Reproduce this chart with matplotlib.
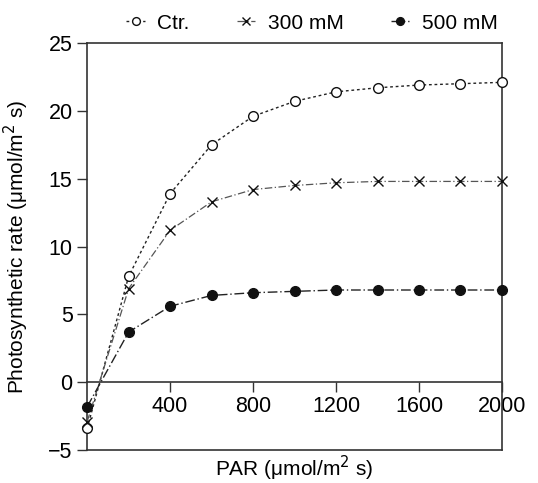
import matplotlib.pyplot as plt

plt.rcParams["font.family"] = ["Liberation Sans", "DejaVu Sans"]

# Data
par = [0, 200, 400, 600, 800, 1000, 1200, 1400, 1600, 1800, 2000]
ctr = [-3.4, 7.8, 13.9, 17.5, 19.6, 20.7, 21.4, 21.7, 21.9, 22.0, 22.1]
mm300 = [-2.9, 6.9, 11.2, 13.3, 14.2, 14.5, 14.7, 14.8, 14.8, 14.8, 14.8]
mm500 = [-1.8, 3.7, 5.6, 6.4, 6.6, 6.7, 6.8, 6.8, 6.8, 6.8, 6.8]
labels = ["Ctr.", "300 mM", "500 mM"]

fig = plt.figure(figsize=(5.38, 4.83), dpi=100)
ax = fig.add_axes([0.162, 0.068, 0.771, 0.843])

ax.plot(par, ctr, linestyle=(0, (2, 2)), color="#222222", lw=1,
        marker="o", markersize=7, markerfacecolor="white",
        markeredgecolor="#111111", label=labels[0], clip_on=False, zorder=3)
ax.plot(par, mm300, linestyle=(0, (6, 2, 1, 2)), color="#555555", lw=0.9,
        marker="x", markersize=6.5, markeredgecolor="#111111",
        label=labels[1], clip_on=False, zorder=3)
ax.plot(par, mm500, linestyle=(0, (7, 2, 1, 2)), color="#222222", lw=1,
        marker="o", markersize=7, markerfacecolor="#111111",
        markeredgecolor="#111111", label=labels[2], clip_on=False, zorder=3)

ax.set_xlim(0, 2000)
ax.set_ylim(-5, 25)
ax.set_xticks([400, 800, 1200, 1600, 2000])
ax.set_yticks([-5, 0, 5, 10, 15, 20, 25])
ax.set_yticklabels(["\u22125", "0", "5", "10", "15", "20", "25"])

# x axis sits on the zero line, frame closes at -5
ax.spines["bottom"].set_position(("data", 0))
ax.axhline(-5, color="#333333", lw=1.2, clip_on=False)
for s in ax.spines.values():
    s.set_color("#333333")
    s.set_linewidth(1.2)

ax.tick_params(axis="both", labelsize=15.5, length=7, width=1, color="#333333")
ax.tick_params(axis="y", pad=3.5)
ax.tick_params(axis="x", pad=3)

ax.set_xlabel("PAR (\u03bcmol/m$^2$ s)", fontsize=15)
ax.xaxis.set_label_coords(0.5, -0.008)
ax.set_ylabel("Photosynthetic rate (\u03bcmol/m$^2$ s)", fontsize=15)
ax.yaxis.set_label_coords(-0.135, 0.5)

leg = ax.legend(loc="center", bbox_to_anchor=(0.542, 1.049), ncol=3,
                frameon=False, fontsize=15, handlelength=0.9,
                handletextpad=0.6, columnspacing=2.25, borderaxespad=0,
                borderpad=0, markerscale=0.8)

plt.savefig("out.png", dpi=100)
plt.close()
